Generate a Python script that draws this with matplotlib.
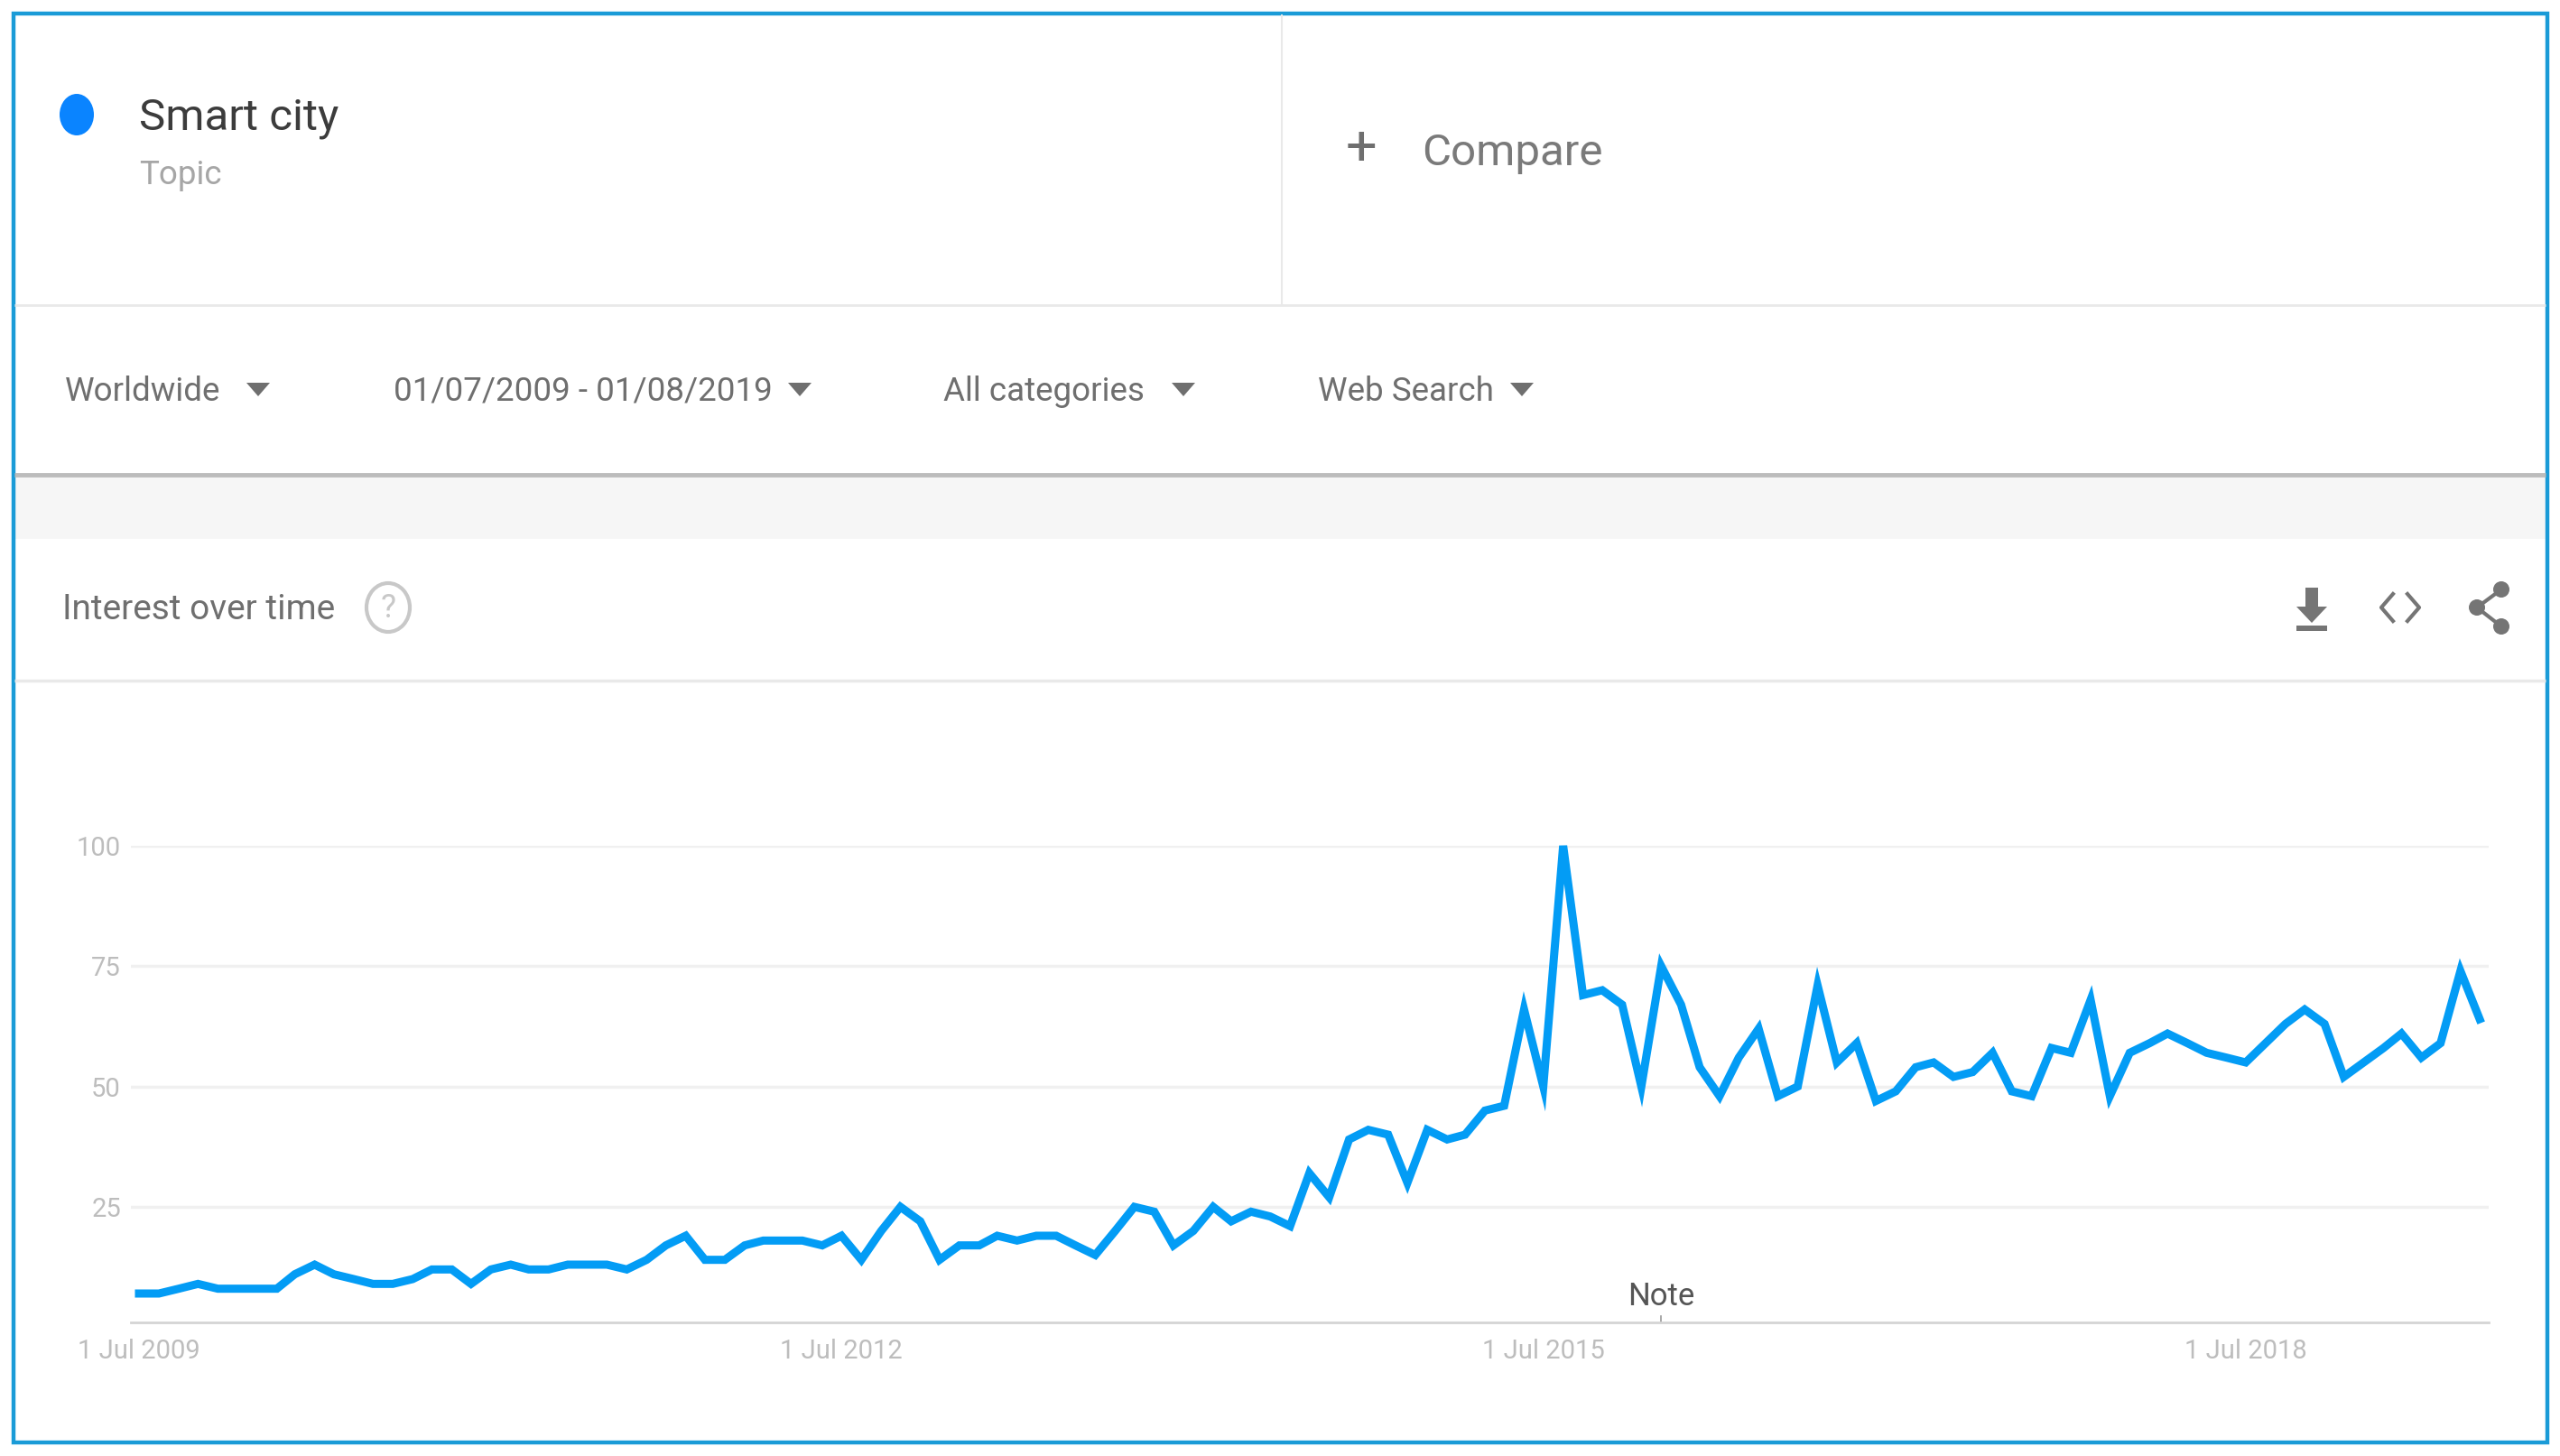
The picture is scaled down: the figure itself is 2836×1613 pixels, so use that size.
# Google Trends screenshot: interest over time for "Smart city"

import pandas as pd
import matplotlib.pyplot as plt
from matplotlib.patches import Ellipse, Circle, Rectangle, Polygon

plt.rcParams['font.family'] = ['Roboto', 'DejaVu Sans']

W, H = 2836, 1613

interest = [7, 7, 8, 9, 8, 8, 8, 8, 11, 13, 11, 10, 9, 9, 10, 12, 12, 9, 12, 13,
            12, 12, 13, 13, 13, 12, 14, 17, 19, 14, 14, 17, 18, 18, 18, 17, 19, 14, 20, 25,
            22, 14, 17, 17, 19, 18, 19, 19, 17, 15, 20, 25, 24, 17, 20, 25, 22, 24, 23, 21,
            32, 27, 39, 41, 40, 30, 41, 39, 40, 45, 46, 66, 50, 100, 69, 70, 67, 50, 75, 67,
            54, 48, 56, 62, 48, 50, 71, 55, 59, 47, 49, 54, 55, 52, 53, 57, 49, 48, 58, 57,
            68, 48, 57, 59, 61, 59, 57, 56, 55, 59, 63, 66, 63, 52, 55, 58, 61, 56, 59, 74, 64]
months = pd.date_range("2009-07-01", periods=len(interest), freq="MS")

y_ticks = [25, 50, 75, 100]
x_ticks = pd.to_datetime(["2009-07-01", "2012-07-01", "2015-07-01", "2018-07-01"])
x_tick_labels = ["1 Jul 2009", "1 Jul 2012", "1 Jul 2015", "1 Jul 2018"]
note_date = pd.Timestamp("2016-01-01")

filters = ["Worldwide", "01/07/2009 - 01/08/2019", "All categories", "Web Search"]
filter_x = [72, 436, 1045, 1460]
arrow_x = [286, 886, 1311, 1686]

LINE = "#039cf5"
BORDER = "#1a9bd7"
RULE = "#e9e9e9"
TEXT = "#6f6f6f"
ICON = "#757575"

fig = plt.figure(figsize=(W / 100, H / 100), dpi=100, facecolor="white")

# page furniture, in pixel coordinates
ui = fig.add_axes([0, 0, 1, 1])
ui.set_xlim(0, W)
ui.set_ylim(H, 0)
ui.axis("off")

ui.add_patch(Rectangle((16, 526), W - 32, 71, fc="#f6f6f6", ec="none"))
ui.plot([16, W - 16], [526, 526], color="#bcbcbc", lw=3.5, solid_capstyle="butt")
ui.plot([16, W - 16], [338, 338], color=RULE, lw=2, solid_capstyle="butt")
ui.plot([16, W - 16], [754, 754], color=RULE, lw=2.5, solid_capstyle="butt")
ui.plot([1420, 1420], [16, 338], color=RULE, lw=1.5, solid_capstyle="butt")
ui.add_patch(Rectangle((15, 15), W - 29, H - 30, fc="none", ec=BORDER, lw=3.2))

ui.add_patch(Ellipse((85, 127), 38, 46, fc="#0a84ff", ec="none"))
ui.text(154, 131, "Smart city", fontsize=35.5, color="#3c3c3c", va="center")
ui.text(154, 194, "Topic", fontsize=26.5, color="#a6a6a6", va="center")
ui.text(1508, 165, "+", fontsize=44, color=TEXT, va="center", ha="center")
ui.text(1575, 170, "Compare", fontsize=35.5, color="#7a7a7a", va="center")

for label, tx, ax_x in zip(filters, filter_x, arrow_x):
    ui.text(tx, 434, label, fontsize=26.5, color=TEXT, va="center")
    ui.add_patch(Polygon([(ax_x - 13, 424), (ax_x + 13, 424), (ax_x, 439)], fc=TEXT, ec="none"))

ui.text(69, 675, "Interest over time", fontsize=28, color=TEXT, va="center")
ui.add_patch(Ellipse((430, 673), 48, 54, fc="none", ec="#c8c8c8", lw=3))
ui.text(430, 674, "?", fontsize=26, color="#c8c8c8", va="center", ha="center")

# download icon
ui.add_patch(Rectangle((2554, 651), 14, 24, fc=ICON, ec="none"))
ui.add_patch(Polygon([(2544, 672), (2578, 672), (2561, 690)], fc=ICON, ec="none"))
ui.add_patch(Rectangle((2544, 693), 34, 6, fc=ICON, ec="none"))
# embed icon
ui.plot([2651, 2638, 2651], [658, 673, 688], color=ICON, lw=3)
ui.plot([2667, 2680, 2667], [658, 673, 688], color=ICON, lw=3)
# share icon
ui.plot([2771, 2744, 2771], [653, 673, 694], color=ICON, lw=3)
for cx, cy in [(2771, 653), (2744, 673), (2771, 694)]:
    ui.add_patch(Circle((cx, cy), 9, fc=ICON, ec="none"))

# chart
left, right, top, bottom = 145, 2757, 937, 1465
ax = fig.add_axes([left / W, 1 - bottom / H, (right - left) / W, (bottom - top) / H])
ax.patch.set_alpha(0)
ax.plot(months, interest, color=LINE, lw=6.5, solid_joinstyle="miter", clip_on=False, zorder=3)

month_px = (months[-1] - months[0]).days / (2747 - 154)
ax.set_xlim(months[0] - pd.Timedelta(days=(154 - left) * month_px),
            months[-1] + pd.Timedelta(days=(right - 2747) * month_px))
ax.set_ylim(1, 100)

ax.set_yticks(y_ticks)
ax.set_xticks(x_ticks)
ax.set_xticklabels(x_tick_labels)
ax.tick_params(axis="both", length=0, labelsize=21, labelcolor="#bdbdbd")
ax.tick_params(axis="x", pad=13)
ax.tick_params(axis="y", pad=8)
ax.grid(axis="y", color="#f0f0f0", lw=2.5)
ax.set_axisbelow(True)
for side in ["top", "left", "right"]:
    ax.spines[side].set_visible(False)
ax.spines["bottom"].set_color("#d4d4d4")
ax.spines["bottom"].set_linewidth(2)

ax.plot([note_date, note_date], [1, 2.4], color="#9a9a9a", lw=1.2, zorder=2)
ax.text(note_date, 3.2, "Note", fontsize=25, color="#555555", ha="center", va="bottom")

fig.savefig("out.png", dpi=100)
